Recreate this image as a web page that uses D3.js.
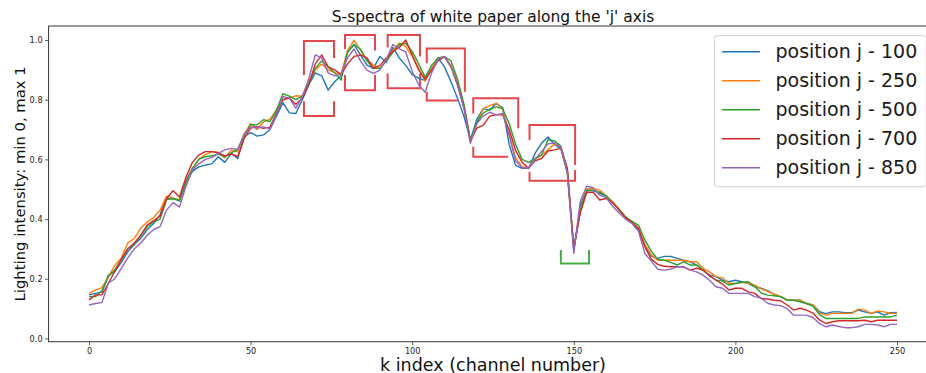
<!DOCTYPE html>
<html>
<head>
<meta charset="utf-8">
<script src="https://cdn.jsdelivr.net/npm/d3@7"></script>
<style>
  html, body { margin: 0; padding: 0; background: #fff; }
  svg { display: block; font-family: "DejaVu Sans", sans-serif; }
</style>
</head>
<body>
<svg id="chart" width="926" height="373"></svg>
<script>
// Channel index k, sampled every second channel (0 .. 250)
const channelIndex = d3.range(0, 251, 2);

const seriesNames = ["position j - 100", "position j - 250", "position j - 500", "position j - 700", "position j - 850"];
const seriesColors = ["#1f77b4", "#ff7f0e", "#2ca02c", "#d62728", "#9467bd"];

const posJ100 = [
  .146,.151,.155,.212,.225,.255,.290,.315,.335,.365,.385,.415,.470,.470,.460,.520,.560,.575,.581,.585,
  .609,.590,.620,.603,.675,.690,.678,.682,.700,.745,.790,.756,.754,.800,.850,.890,.880,.832,.860,.880,
  .960,.985,.950,.916,.905,.945,.925,.975,.940,.915,.884,.872,.865,.900,.940,.910,.860,.805,.745,.665,
  .735,.770,.765,.788,.773,.650,.580,.570,.570,.620,.654,.675,.650,.635,.555,.296,.445,.500,.495,.486,
  .478,.455,.432,.405,.388,.365,.310,.275,.268,.275,.275,.268,.262,.257,.246,.229,.212,.207,.195,.190,
  .195,.190,.184,.173,.168,.160,.148,.140,.128,.128,.128,.117,.112,.090,.083,.089,.089,.086,.086,.095,
  .089,.084,.089,.078,.086,.087
];
const posJ250 = [
  .151,.162,.170,.207,.245,.270,.320,.335,.370,.390,.405,.430,.477,.470,.465,.530,.570,.600,.616,.626,
  .624,.605,.631,.625,.685,.720,.700,.726,.735,.765,.800,.806,.813,.812,.860,.900,.920,.900,.890,.885,
  .965,1.000,.965,.933,.916,.905,.930,.965,.990,.978,.945,.905,.862,.905,.938,.944,.915,.860,.780,.662,
  .720,.770,.780,.788,.768,.685,.605,.575,.572,.600,.614,.632,.652,.640,.560,.300,.430,.500,.503,.497,
  .478,.458,.435,.405,.392,.370,.315,.280,.262,.262,.262,.262,.262,.257,.257,.235,.223,.207,.203,.184,
  .184,.188,.184,.179,.166,.158,.148,.140,.130,.128,.128,.117,.112,.085,.078,.084,.084,.084,.084,.098,
  .095,.084,.092,.089,.084,.084
];
const posJ500 = [
  .140,.140,.160,.207,.230,.265,.300,.315,.345,.375,.390,.400,.465,.468,.463,.525,.570,.600,.609,.612,
  .618,.609,.622,.633,.680,.715,.716,.733,.726,.765,.820,.812,.800,.812,.855,.905,.930,.910,.890,.866,
  .960,.985,.970,.930,.905,.905,.930,.958,.985,.989,.962,.920,.875,.915,.940,.944,.930,.870,.785,.665,
  .726,.755,.768,.776,.770,.720,.650,.600,.590,.603,.614,.665,.662,.645,.565,.300,.430,.495,.497,.490,
  .478,.455,.432,.408,.392,.380,.330,.292,.265,.262,.255,.246,.257,.246,.246,.229,.210,.195,.192,.179,
  .184,.188,.190,.173,.152,.145,.143,.140,.128,.128,.123,.117,.108,.080,.067,.067,.067,.067,.067,.067,
  .072,.072,.072,.072,.072,.078
];
const posJ700 = [
  .129,.146,.146,.185,.225,.265,.300,.320,.345,.380,.395,.410,.469,.495,.474,.540,.590,.615,.626,.626,
  .622,.612,.618,.609,.670,.705,.710,.704,.708,.755,.800,.806,.785,.805,.850,.920,.950,.910,.900,.885,
  .920,.945,.950,.940,.905,.915,.940,.962,.975,1.000,.950,.900,.868,.900,.930,.944,.910,.850,.776,.660,
  .705,.715,.745,.749,.749,.700,.630,.590,.570,.595,.603,.628,.632,.637,.570,.300,.420,.490,.490,.464,
  .469,.455,.430,.405,.388,.368,.307,.265,.248,.242,.240,.240,.240,.229,.235,.229,.210,.195,.182,.162,
  .168,.168,.156,.151,.134,.132,.128,.126,.112,.095,.101,.095,.085,.062,.050,.056,.059,.059,.059,.059,
  .061,.056,.061,.061,.061,.061
];
const posJ850 = [
  .112,.117,.120,.185,.200,.235,.270,.300,.320,.345,.365,.375,.430,.455,.440,.510,.565,.585,.600,.606,
  .620,.632,.637,.633,.685,.708,.705,.709,.702,.750,.810,.806,.772,.810,.870,.950,.940,.890,.880,.885,
  .940,.970,.930,.899,.888,.899,.935,.985,.970,.960,.895,.850,.825,.890,.935,.944,.910,.850,.770,.654,
  .720,.745,.758,.749,.754,.680,.595,.572,.572,.600,.626,.652,.655,.640,.555,.285,.460,.510,.505,.480,
  .472,.443,.420,.400,.385,.360,.285,.258,.232,.229,.232,.240,.240,.229,.223,.212,.195,.173,.168,.151,
  .151,.151,.151,.140,.135,.118,.112,.110,.100,.078,.078,.078,.070,.050,.039,.045,.040,.036,.036,.039,
  .047,.047,.045,.039,.047,.047
];
const seriesValues = [posJ100, posJ250, posJ500, posJ700, posJ850];

// Highlight brackets, as [k, intensity] polylines
const redBrackets = [
  [[66.5, .883], [66.5, .997], [75.8, .997], [75.8, .940]],
  [[66.5, .795], [66.5, .745], [75.8, .745], [75.8, .795]],
  [[79.2, .970], [79.2, 1.017], [88.5, 1.017], [88.5, .965]],
  [[79.2, .883], [79.2, .832], [88.5, .832], [88.5, .883]],
  [[92.4, .975], [92.4, 1.017], [102.4, 1.017], [102.4, .945]],
  [[92.4, .888], [92.4, .838], [102.4, .838], [102.4, .888]],
  [[104.5, .922], [104.5, .972], [116.3, .972], [116.3, .827]],
  [[104.5, .827], [104.5, .797], [114.0, .797]],
  [[118.9, .754], [118.9, .805], [132.8, .805], [132.8, .704]],
  [[118.9, .642], [118.9, .609], [129.7, .609]],
  [[136.3, .665], [136.3, .715], [150.4, .715], [150.4, .581]],
  [[136.3, .558], [136.3, .528], [150.4, .528], [150.4, .564]]
];
const greenBrackets = [
  [[146.0, .296], [146.0, .251], [154.7, .251], [154.7, .296]]
];

const xTicks = [0, 50, 100, 150, 200, 250];
const yTicks = [0.0, 0.2, 0.4, 0.6, 0.8, 1.0];

const titleText = "S-spectra of white paper along the 'j' axis";
const xLabelText = "k index (channel number)";
const yLabelText = "Lighting intensity: min 0, max 1";

const svg = d3.select("#chart");
const plot = { left: 48.6, right: 937.4, top: 26, bottom: 341.7 };

const x = d3.scaleLinear().domain([-12.5, 262.5]).range([plot.left, plot.right]);
const y = d3.scaleLinear().domain([-0.011, 1.047]).range([plot.bottom, plot.top]);

svg.append("defs").append("clipPath").attr("id", "plotClip")
  .append("rect").attr("x", plot.left).attr("y", plot.top)
  .attr("width", plot.right - plot.left).attr("height", plot.bottom - plot.top);

const body = svg.append("g").attr("clip-path", "url(#plotClip)");

const bracketLine = d3.line().x(d => x(d[0])).y(d => y(d[1]));
body.selectAll("path.red-bracket").data(redBrackets).join("path")
  .attr("class", "red-bracket")
  .attr("d", bracketLine)
  .attr("fill", "none").attr("stroke", "#e3474c").attr("stroke-width", 2);
body.selectAll("path.green-bracket").data(greenBrackets).join("path")
  .attr("class", "green-bracket")
  .attr("d", bracketLine)
  .attr("fill", "none").attr("stroke", "#45ad45").attr("stroke-width", 2);

const spectrumLine = d3.line()
  .x((d, i) => x(channelIndex[i]))
  .y(d => y(d));
body.selectAll("path.spectrum").data(seriesValues).join("path")
  .attr("class", "spectrum")
  .attr("d", spectrumLine)
  .attr("fill", "none")
  .attr("stroke", (d, i) => seriesColors[i])
  .attr("stroke-width", 1.4)
  .attr("stroke-linejoin", "round");

// Axes
const xAxis = d3.axisBottom(x).tickValues(xTicks).tickFormat(d3.format("d")).tickSize(3.5).tickPadding(2.5);
const yAxis = d3.axisLeft(y).tickValues(yTicks).tickFormat(d3.format(".1f")).tickSize(3.5).tickPadding(2.5);

const gx = svg.append("g").attr("transform", `translate(0,${plot.bottom})`).call(xAxis);
const gy = svg.append("g").attr("transform", `translate(${plot.left},0)`).call(yAxis);
[gx, gy].forEach(g => {
  g.select(".domain").remove();
  g.selectAll(".tick line").attr("stroke", "#333").attr("stroke-width", 0.8);
  g.selectAll(".tick text").attr("fill", "#222").style("font-size", "8.2px")
    .style("font-family", "DejaVu Sans, sans-serif");
});

// Frame
svg.append("rect")
  .attr("x", plot.left).attr("y", plot.top)
  .attr("width", plot.right - plot.left).attr("height", plot.bottom - plot.top)
  .attr("fill", "none").attr("stroke", "#333").attr("stroke-width", 1);

// Titles
svg.append("text").attr("x", (plot.left + plot.right) / 2).attr("y", 21.5)
  .attr("text-anchor", "middle").style("font-size", "15.5px").attr("fill", "#111")
  .text(titleText);
svg.append("text").attr("x", (plot.left + plot.right) / 2).attr("y", 370.5)
  .attr("text-anchor", "middle").style("font-size", "17.5px").attr("fill", "#111")
  .text(xLabelText);
svg.append("text")
  .attr("transform", `translate(25,${(plot.top + plot.bottom) / 2}) rotate(-90)`)
  .attr("text-anchor", "middle").style("font-size", "14.8px").attr("fill", "#111")
  .text(yLabelText);

// Legend
const legend = svg.append("g");
legend.append("rect")
  .attr("x", 714.3).attr("y", 35.7).attr("width", 212).attr("height", 151)
  .attr("rx", 3).attr("fill", "#fff").attr("fill-opacity", 0.8)
  .attr("stroke", "#d0d0d0").attr("stroke-width", 1);
const rows = legend.selectAll("g.row").data(seriesNames).join("g")
  .attr("class", "row")
  .attr("transform", (d, i) => `translate(0,${51.7 + i * 29})`);
rows.append("line").attr("x1", 722).attr("x2", 760).attr("y1", 0).attr("y2", 0)
  .attr("stroke", (d, i) => seriesColors[i]).attr("stroke-width", 1.4);
rows.append("text").attr("x", 775.5).attr("y", 0).attr("dy", "0.35em")
  .style("font-size", "19px").attr("fill", "#1a1a1a")
  .text(d => d);
</script>
</body>
</html>
